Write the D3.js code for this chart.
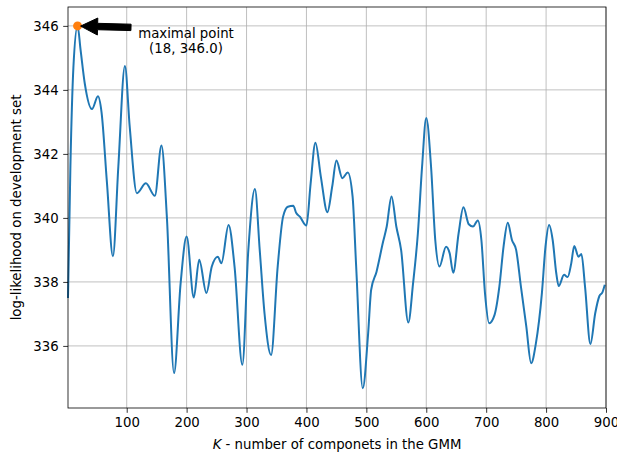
<!DOCTYPE html>
<html><head><meta charset="utf-8">
<script src="https://cdn.jsdelivr.net/npm/d3@7"></script>
<style>
html,body{margin:0;padding:0;background:#fff;}
svg{display:block;font-family:"DejaVu Sans",sans-serif;}
</style></head>
<body><svg id="c" width="617" height="454"></svg>
<script>
const kValues = [2,6,11,18,23,30,42,52,58,67,77,86,97,105,117,132,147,158,167,179,190,200,212,221,233,242,252,258,270,280,293,303,314,322,330,341,352,361,369,378,383,389,400,407,415,424,435,443,450,460,469,477,483,494,503,508,517,528,534,542,550,558,570,578,586,593,600,608,615,622,633,639,645,654,662,671,678,686,692,698,705,714,722,729,736,743,750,758,767,775,783,793,799,805,811,817,821,830,836,842,847,854,859,865,874,882,889,894,898];
const logLik = [337.5,341.6,344.7,346.0,345.25,344.2,343.4,343.8,343.3,341.1,338.8,341.6,344.75,342.85,340.77,341.08,340.69,342.26,340.04,335.15,337.96,339.42,337.51,338.69,337.65,338.48,338.79,338.58,339.78,338.48,335.41,339.0,340.9,339.0,337.02,335.72,338.48,340.04,340.35,340.38,340.15,340.04,339.76,341.08,342.35,341.29,340.18,340.98,341.79,341.24,341.42,340.67,338.48,334.68,336.4,337.75,338.32,339.26,339.73,340.67,339.73,339.0,336.73,337.96,339.52,341.6,343.12,341.6,339.31,338.48,339.1,338.9,338.29,339.52,340.33,339.8,339.73,339.92,339.31,337.65,336.71,336.97,337.85,339.1,339.85,339.31,339.0,337.85,336.6,335.46,336.08,337.65,339.1,339.78,339.31,338.27,337.87,338.22,338.15,338.58,339.12,338.79,338.87,337.85,336.06,337.02,337.56,337.67,337.91];
const xTicks = [100,200,300,400,500,600,700,800,900];
const yTicks = [336,338,340,342,344,346];
const maxPoint = {k:18, v:346.0};
const annotLines = ["maximal point", "(18, 346.0)"];
const xLabelItalic = "K";
const xLabelRest = " - number of componets in the GMM";
const yLabel = "log-likelihood on development set";

const L=68, R=606, T=7, B=408;
const xs = d3.scaleLinear().domain([2,900]).range([L,R]);
const ys = d3.scaleLinear().domain([334.06,346.59]).range([B,T]);
const svg = d3.select("#c");

// grid
const g = svg.append("g");
g.selectAll("line.gx").data(xTicks).join("line")
  .attr("x1",d=>xs(d)).attr("x2",d=>xs(d)).attr("y1",T).attr("y2",B)
  .attr("stroke","#b0b0b0").attr("stroke-width",0.8);
g.selectAll("line.gy").data(yTicks).join("line")
  .attr("y1",d=>ys(d)).attr("y2",d=>ys(d)).attr("x1",L).attr("x2",R)
  .attr("stroke","#b0b0b0").attr("stroke-width",0.8);

// line
const data = kValues.map((k,i)=>[k,logLik[i]]);
svg.append("path").datum(data)
  .attr("fill","none").attr("stroke","#1f77b4").attr("stroke-width",2)
  .attr("stroke-linejoin","round")
  .attr("d", d3.line().x(d=>xs(d[0])).y(d=>ys(d[1])).curve(d3.curveMonotoneX));

// axes
const xAxis = d3.axisBottom(xs).tickValues(xTicks).tickSize(4.8).tickPadding(4.5).tickFormat(d3.format("d"));
const yAxis = d3.axisLeft(ys).tickValues(yTicks).tickSize(4.8).tickPadding(4.5).tickFormat(d3.format("d"));
const gx = svg.append("g").attr("transform",`translate(0,${B})`).call(xAxis);
const gy = svg.append("g").attr("transform",`translate(${L},0)`).call(yAxis);
[gx,gy].forEach(a=>{
  a.select(".domain").remove();
  a.selectAll("line").attr("stroke","#000").attr("stroke-width",0.8);
  a.selectAll("text").attr("font-family","DejaVu Sans").attr("font-size",13.3).attr("fill","#000");
});
// frame
svg.append("rect").attr("x",L).attr("y",T).attr("width",R-L).attr("height",B-T)
  .attr("fill","none").attr("stroke","#000").attr("stroke-width",0.8);

// max point
const px = xs(maxPoint.k), py = ys(maxPoint.v);
svg.append("circle").attr("cx",px).attr("cy",py).attr("r",4.5).attr("fill","#ff7f0e");

// arrow
const tipX = px+3, tipY = py+0.2, tailX = 131, tailY = py+1.5;
const headL = 17, headW = 8.5, shaftW = 3.2;
const ang = Math.atan2(tailY-tipY, tailX-tipX);
const ux = Math.cos(ang), uy = Math.sin(ang), nx = -uy, ny = ux;
const bx = tipX+ux*headL, by = tipY+uy*headL;
const pts = [
  [tipX,tipY],
  [bx+nx*headW, by+ny*headW],
  [bx+nx*shaftW, by+ny*shaftW],
  [tailX+nx*shaftW, tailY+ny*shaftW],
  [tailX-nx*shaftW, tailY-ny*shaftW],
  [bx-nx*shaftW, by-ny*shaftW],
  [bx-nx*headW, by-ny*headW]
];
svg.append("polygon").attr("points",pts.map(p=>p.join(",")).join(" "))
  .attr("fill","#000").attr("stroke","#000").attr("stroke-width",1);

// annotation text
const tx = 186;
svg.append("g").selectAll("text").data(annotLines).join("text")
  .attr("x",tx).attr("y",(d,i)=>37.5+i*15.5)
  .attr("text-anchor","middle").attr("font-size",13.3).attr("fill","#000")
  .text(d=>d);

// axis labels
const xl = svg.append("text").attr("x",(L+R)/2).attr("y",449)
  .attr("text-anchor","middle").attr("font-size",13.3).attr("fill","#000");
xl.append("tspan").attr("font-style","italic").text(xLabelItalic);
xl.append("tspan").text(xLabelRest);
svg.append("text").attr("transform",`translate(21,${(T+B)/2}) rotate(-90)`)
  .attr("text-anchor","middle").attr("font-size",13.3).attr("fill","#000").text(yLabel);
</script></body></html>
